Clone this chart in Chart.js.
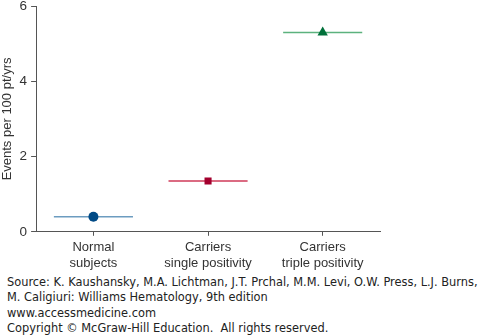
<!DOCTYPE html>
<html>
<head>
<meta charset="utf-8">
<script src="https://cdn.jsdelivr.net/npm/chart.js@4"></script>
<style>
  html, body { margin: 0; padding: 0; background: #fff; overflow: hidden; }
  #wrap { position: relative; width: 478px; height: 281px; margin-top: -6px; }
  #src { font-family: "DejaVu Sans", Verdana, sans-serif; font-size: 11.4px; line-height: 15.3px;
         color: #222; padding-left: 7px; margin-top: 0; white-space: nowrap; }
</style>
</head>
<body>
<div id="wrap"><canvas id="chart"></canvas></div>
<div id="src">
Source: K. Kaushansky, M.A. Lichtman, J.T. Prchal, M.M. Levi, O.W. Press, L.J. Burns,<br>
M. Caligiuri: Williams Hematology, 9th edition<br>
www.accessmedicine.com<br>
Copyright © McGraw-Hill Education.&nbsp; All rights reserved.
</div>
<script>
(function(){
    // categories and values
    const categories = [['Normal', 'subjects'], ['Carriers', 'single positivity'], ['Carriers', 'triple positivity']];
    const rates = [0.4, 1.35, 5.3];
    const markers = ['circle', 'rect', 'triangle'];
    const markerColors = ['#004a86', '#a3002e', '#00703a'];
    const lineColors = ['#6c9cc0', '#cf3a58', '#5cb27e'];
    const yTicks = [0, 2, 4, 6];
    const halfWidth = 0.345;

    const datasets = [];
    rates.forEach((v, i) => {
        datasets.push({
            type: 'line',
            data: [{x: i - halfWidth, y: v}, {x: i + halfWidth, y: v}],
            borderColor: lineColors[i],
            borderWidth: 1.5,
            pointRadius: 0,
            order: 2
        });
        datasets.push({
            type: 'scatter',
            data: [{x: i, y: v}],
            pointStyle: markers[i],
            pointRadius: markers[i] === 'triangle' ? 6 : 5,
            backgroundColor: markerColors[i],
            borderColor: markerColors[i],
            borderWidth: 0,
            order: 1
        });
    });

    const axisColor = '#555';
    const fam = "'Liberation Sans', Arial, Helvetica, sans-serif";
    new Chart(document.getElementById('chart'), {
        type: 'scatter',
        data: { datasets: datasets },
        options: {
            responsive: true,
            maintainAspectRatio: false,
            animation: false,
            layout: { padding: { top: 0, right: 98, left: 0, bottom: 0 } },
            plugins: { legend: { display: false }, tooltip: { enabled: false } },
            scales: {
                x: {
                    type: 'linear',
                    min: -0.5,
                    max: 2.5,
                    afterBuildTicks: s => { s.ticks = categories.map((c, i) => ({value: i})); },
                    grid: { drawOnChartArea: false, drawTicks: true, tickLength: 4, color: axisColor },
                    border: { color: axisColor, width: 1 },
                    ticks: {
                        callback: (v) => categories[v],
                        color: '#333',
                        font: { family: fam, size: 13 },
                        padding: 4,
                        maxRotation: 0
                    }
                },
                y: {
                    min: 0,
                    max: 6,
                    afterBuildTicks: s => { s.ticks = yTicks.map(v => ({value: v})); },
                    grid: { drawOnChartArea: false, drawTicks: true, tickLength: 5, color: axisColor },
                    border: { color: axisColor, width: 1 },
                    ticks: {
                        color: '#333',
                        font: { family: fam, size: 13.5 },
                        padding: 4
                    },
                    title: {
                        display: true,
                        text: 'Events per 100 pt/yrs',
                        color: '#333',
                        font: { family: fam, size: 13 },
                        padding: { top: 0, bottom: 0 }
                    }
                }
            }
        }
    });
})();
</script>
</body>
</html>
